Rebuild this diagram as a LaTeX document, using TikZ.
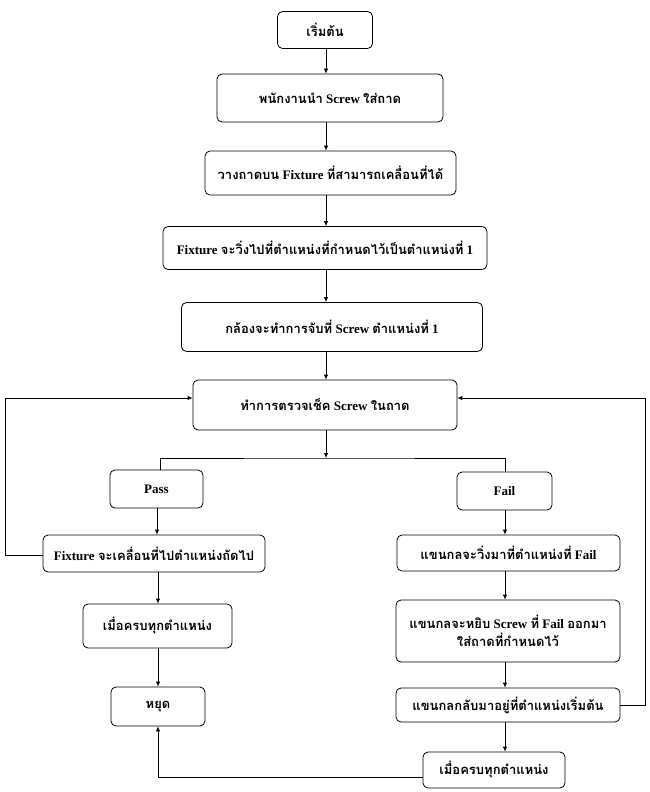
\documentclass[tikz,border=0pt]{standalone}
\usepackage{fontspec}
\setmainfont{Liberation Serif}
\newfontfamily\thaifont[Script=Thai]{Loma}
\usetikzlibrary{arrows.meta}
\newcommand{\tf}[1]{{\thaifont #1}}
\begin{document}
\begin{tikzpicture}[x={(1pt,0)},y={(0,-1pt)},
  box/.style={draw, rounded corners=5pt, line width=0.8pt, align=center, inner sep=2pt,
    font=\fontsize{13}{18}\selectfont\bfseries},
  arr/.style={-{Latex[length=5pt,width=4.5pt]}, line width=0.8pt},
  ln/.style={line width=0.8pt}]
\useasboundingbox (0,0) rectangle (649,792);
\node[box, minimum width=95pt, minimum height=37pt] (start) at (325,30) {\tf{เริ่มต้น}};
\node[box, minimum width=226pt, minimum height=48pt] (b2) at (330,98) {\tf{พนักงานนำ} Screw \tf{ใส่ถาด}};
\node[box, minimum width=251pt, minimum height=44pt] (b3) at (330.5,173) {\tf{วางถาดบน} Fixture \tf{ที่สามารถเคลื่อนที่ได้}};
\node[box, minimum width=324pt, minimum height=43pt] (b4) at (325,248) {Fixture \tf{จะวิ่งไปที่ตำแหน่งที่กำหนดไว้เป็นตำแหน่งที่} 1};
\node[box, minimum width=301pt, minimum height=49pt] (b5) at (332,327) {\tf{กล้องจะทำการจับที่} Screw \tf{ตำแหน่งที่} 1};
\node[box, minimum width=264pt, minimum height=50pt] (b6) at (325,405) {\tf{ทำการตรวจเช็ค} Screw \tf{ในถาด}};
\node[box, minimum width=93pt, minimum height=38pt] (pass) at (156.5,489) {Pass};
\node[box, minimum width=95pt, minimum height=38pt] (fail) at (504.5,491) {Fail};
\node[box, minimum width=222pt, minimum height=37pt] (next) at (154,553.5) {Fixture \tf{จะเคลื่อนที่ไปตำแหน่งถัดไป}};
\node[box, minimum width=223pt, minimum height=36pt] (arm1) at (508.5,553) {\tf{แขนกลจะวิ่งมาที่ตำแหน่งที่} Fail};
\node[box, minimum width=224pt, minimum height=62pt] (arm2) at (508,631) {\tf{แขนกลจะหยิบ} Screw \tf{ที่} Fail \tf{ออกมา}\\ \tf{ใส่ถาดที่กำหนดไว้}};
\node[box, minimum width=224pt, minimum height=34pt] (arm3) at (508,705) {\tf{แขนกลกลับมาอยู่ที่ตำแหน่งเริ่มต้น}};
\node[box, minimum width=142pt, minimum height=36pt] (doneR) at (494,770) {\tf{เมื่อครบทุกตำแหน่ง}};
\node[box, minimum width=149pt, minimum height=44pt] (doneL) at (157.5,626) {\tf{เมื่อครบทุกตำแหน่ง}};
\node[box, minimum width=94pt, minimum height=39pt] (stop) at (158,706.5) {\tf{หยุด}};
\coordinate (split) at (326,458);
\coordinate (lpt) at (5,555);
\coordinate (rpt) at (645,705);
% main chain
\draw[arr] (start.south -| 326,0) -- (b2.north -| 326,0);
\draw[arr] (b2.south -| 326,0) -- (b3.north -| 326,0);
\draw[arr] (b3.south -| 326,0) -- (b4.north -| 326,0);
\draw[arr] (b4.south -| 326,0) -- (b5.north -| 326,0);
\draw[arr] (b5.south -| 326,0) -- (b6.north -| 326,0);
\draw[arr] (b6.south -| split) -- (split);
\draw[ln] (pass.north -| 160,0) |- (split) -| (fail.north -| 505,0);
\draw[arr] (pass.south -| 157,0) -- (next.north -| 157,0);
\draw[arr] (next.south -| 158,0) -- (doneL.north -| 158,0);
\draw[arr] (doneL.south -| 158,0) -- (stop.north -| 158,0);
\draw[arr] (fail.south -| 505,0) -- (arm1.north -| 505,0);
\draw[arr] (arm1.south -| 505,0) -- (arm2.north -| 505,0);
\draw[arr] (arm2.south -| 505,0) -- (arm3.north -| 505,0);
\draw[arr] (arm3.south -| 505,0) -- (doneR.north -| 505,0);
\draw[arr] (doneR.west |- 0,777) -| (stop.south -| 158,0);
% loops
\draw[arr] (next.west |- lpt) -- (lpt) |- (b6.west |- 0,398);
\draw[arr] (arm3.east |- rpt) -- (rpt) |- (b6.east |- 0,398);
\end{tikzpicture}
\end{document}
